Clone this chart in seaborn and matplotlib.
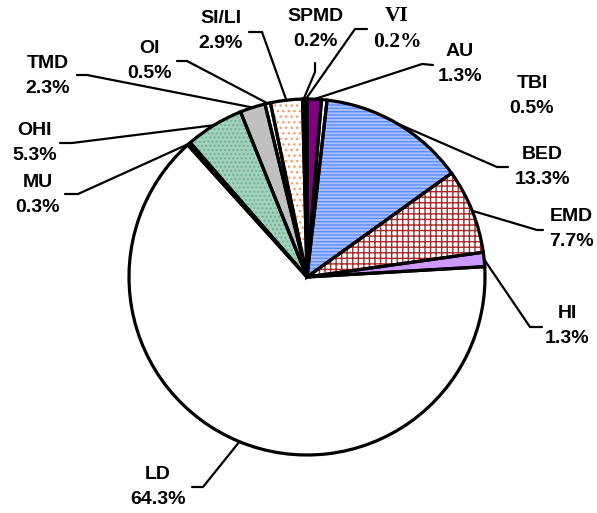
import numpy as np
import matplotlib
matplotlib.use("Agg")
import matplotlib.pyplot as plt
import seaborn as sns

# --- données (ordre horaire depuis midi) ---
categories = ["AU", "TBI", "BED", "EMD", "HI", "LD", "MU", "OHI", "TMD", "OI", "SI/LI", "SPMD", "VI"]
percentages = [1.3, 0.5, 13.3, 7.7, 1.3, 64.3, 0.3, 5.3, 2.3, 0.5, 2.9, 0.2, 0.2]

# --- style des parts ---
face_colors = ["#800080", "white", "#a9c0ff", "white", "#cc99ff", "white", "black",
               "#a3d3bc", "#c0c0c0", "white", "white", "#111111", "black"]
hatch_colors = ["#800080", "white", "#5d8dff", "#a52a2a", "#cc99ff", "white", "black",
                "#6fb391", "#c0c0c0", "white", "#ff9966", "#111111", "black"]
hatches = [None, None, "-----", "+++", None, None, None, "....", None, None, "...", None, None]

# --- mise en page (pixels, origine en haut à gauche) ---
W, H = 597, 513
center_px = (307, 277)
radius_px = 178
label_pos = {
    "AU": (460, 64), "TBI": (532, 96), "BED": (542, 167), "EMD": (571, 229),
    "HI": (567, 326), "LD": (158, 487), "MU": (38, 195), "OHI": (35, 143),
    "TMD": (48, 76), "OI": (150, 61), "SI/LI": (221, 31), "SPMD": (315, 29),
    "VI": (397, 29),
}
leader_pts = {
    "AU": [(433, 65), (422, 64)], "BED": [(508, 167), (497, 167)],
    "EMD": [(543, 230), (537, 230)], "HI": [(542, 327), (530, 327)],
    "LD": [(192, 487), (203, 487)], "MU": [(65, 194), (78, 194)],
    "OHI": [(60, 143), (72, 143)], "TMD": [(77, 75), (87, 75)],
    "OI": [(177, 61), (187, 61)], "SI/LI": [(249, 32), (262, 32)],
    "SPMD": [(315, 63), (315, 72)], "VI": [(367, 29), (355, 29)],
}


def to_data(p):
    return (p[0], H - p[1])


sns.set_style("white")
plt.rcParams["font.family"] = ["Liberation Sans", "DejaVu Sans"]
plt.rcParams["text.color"] = "black"
plt.rcParams["hatch.linewidth"] = 1.0

fig = plt.figure(figsize=(W / 100, H / 100), dpi=100)
ax = fig.add_axes([0, 0, 1, 1])

center = to_data(center_px)

# remplissage + motifs
wedges, _ = ax.pie(percentages, startangle=90, counterclock=False,
                   center=center, radius=radius_px,
                   colors=face_colors,
                   wedgeprops=dict(linewidth=0))
for w, hc, h in zip(wedges, hatch_colors, hatches):
    w.set_edgecolor(hc)
    if h:
        w.set_hatch(h)

# contours noirs
outline, _ = ax.pie(percentages, startangle=90, counterclock=False,
                    center=center, radius=radius_px,
                    colors=["none"] * len(percentages),
                    wedgeprops=dict(linewidth=2.3, edgecolor="black"))

# étiquettes et lignes de rappel
for w, cat, pct in zip(outline, categories, percentages):
    mid = np.deg2rad((w.theta1 + w.theta2) / 2)
    edge = (center[0] + radius_px * np.cos(mid), center[1] + radius_px * np.sin(mid))
    if cat in leader_pts:
        pts = [to_data(p) for p in leader_pts[cat]] + [edge]
        xs, ys = zip(*pts)
        ax.plot(xs, ys, color="black", lw=1.6, solid_joinstyle="miter", zorder=5)
    tx, ty = to_data(label_pos[cat])
    if cat == "VI":
        ax.text(tx, ty, f"{cat}\n{pct}%", ha="center", va="center", color="black",
                fontsize=15.5, fontweight="bold", family=["Liberation Serif"],
                linespacing=1.4)
    else:
        ax.text(tx, ty, f"{cat}\n{pct}%", ha="center", va="center", color="black",
                fontsize=14, fontweight="bold", linespacing=1.55)

ax.set_xlim(0, W)
ax.set_ylim(0, H)
ax.set_aspect("equal", adjustable="box")
ax.axis("off")

fig.savefig("out.png", dpi=100)
